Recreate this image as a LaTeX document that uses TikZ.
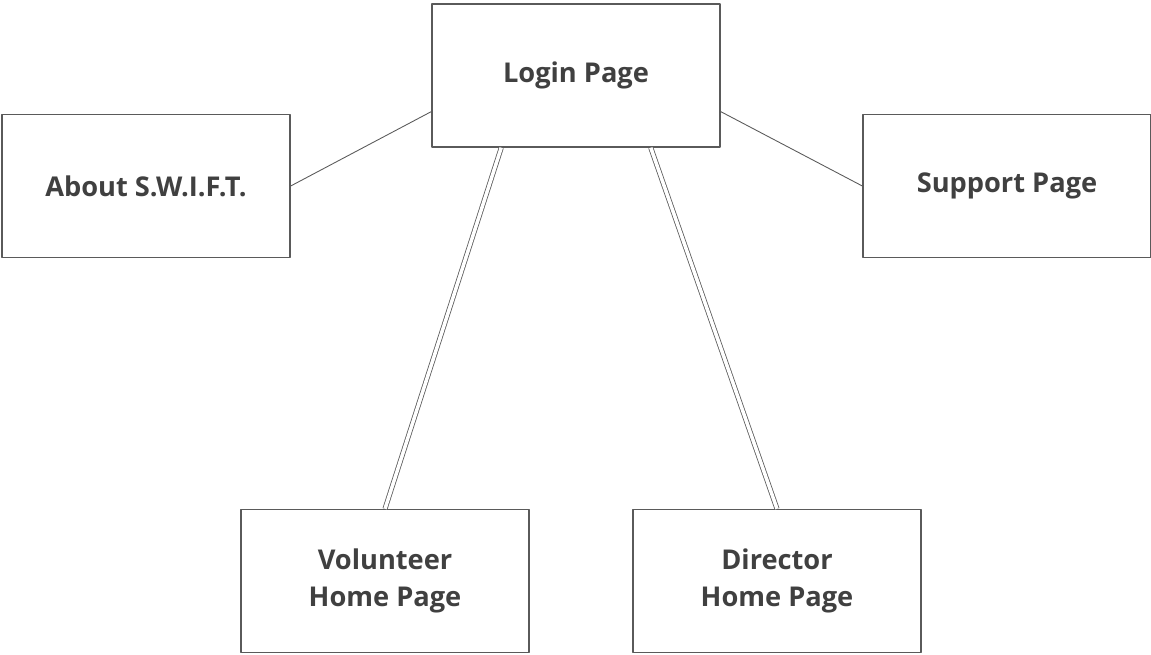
\documentclass[tikz,border=0pt]{standalone}
\usepackage{fontspec}
\setmainfont{Open Sans}
\definecolor{boxline}{HTML}{5A5A5A}
\definecolor{labeltext}{HTML}{404040}
\begin{document}
\begin{tikzpicture}[x=0.02cm, y=-0.02cm, line join=round,
		page/.style={draw=boxline, line width=0.8pt, fill=white, minimum width=5.76cm, minimum height=2.86cm,
			align=center, font=\fontsize{15.5}{21.5}\selectfont\bfseries, text=labeltext, inner sep=0pt},
		link/.style={draw=boxline, line width=0.5pt},
		twin/.style={draw=boxline, line width=0.45pt, double=white, double distance=0.07cm}]
			\useasboundingbox (0,0) rectangle (1151,654);
			% pages
			\node[page] (login) at (576,75.5) {Login Page};
			\node[page] (about) at (146,186) {About S.W.I.F.T.};
			\node[page] (support) at (1007,186) {Support Page};
			\node[page] (volunteer) at (385,581) {Volunteer\\Home Page};
			\node[page] (director) at (777,581) {Director\\Home Page};
			% links
			\draw[link] (about.east) -- (login.194);
			\draw[link] (support.west) -- (login.-14);
			\draw[twin] (login.224) -- (volunteer.north);
			\draw[twin] (login.316) -- (director.north);
		\end{tikzpicture}
\end{document}
